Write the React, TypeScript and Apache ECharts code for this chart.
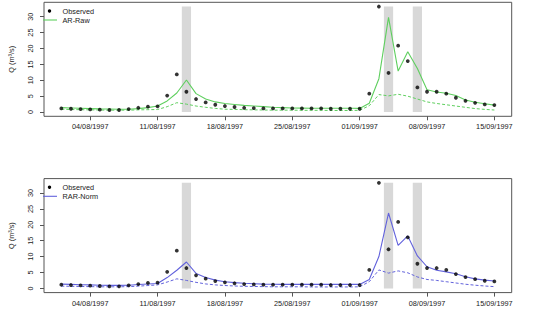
import React, { useEffect, useRef } from "react";
import * as echarts from "echarts";

const dates = [
  "01/08/1997","02/08/1997","03/08/1997","04/08/1997","05/08/1997","06/08/1997","07/08/1997","08/08/1997",
  "09/08/1997","10/08/1997","11/08/1997","12/08/1997","13/08/1997","14/08/1997","15/08/1997","16/08/1997",
  "17/08/1997","18/08/1997","19/08/1997","20/08/1997","21/08/1997","22/08/1997","23/08/1997","24/08/1997",
  "25/08/1997","26/08/1997","27/08/1997","28/08/1997","29/08/1997","30/08/1997","31/08/1997","01/09/1997",
  "02/09/1997","03/09/1997","04/09/1997","05/09/1997","06/09/1997","07/09/1997","08/09/1997","09/09/1997",
  "10/09/1997","11/09/1997","12/09/1997","13/09/1997","14/09/1997","15/09/1997",
];

const tickLabels = ["04/08/1997","11/08/1997","18/08/1997","25/08/1997","01/09/1997","08/09/1997","15/09/1997"];
const yTicks = [0, 5, 10, 15, 20, 25, 30];
const eventDates = ["14/08/1997", "04/09/1997", "07/09/1997"];

const observed = [
  1.15,1.05,0.95,0.85,0.75,0.65,0.65,0.95,1.35,1.7,1.8,5.2,11.85,6.4,4.1,3.05,
  2.3,1.9,1.6,1.35,1.25,1.15,1.15,1.15,1.15,1.15,1.15,1.15,1.05,1.05,1.05,1.05,
  5.8,33.2,12.3,20.9,16.05,7.75,6.4,6.4,5.8,4.5,3.55,2.9,2.4,2.2,
];

const arRaw = [
  1.4,1.3,1.2,1.1,1.0,0.95,0.9,0.9,1.1,1.4,1.9,3.5,6.0,10.1,5.8,4.1,
  3.2,2.7,2.4,2.1,1.9,1.7,1.5,1.4,1.3,1.25,1.2,1.2,1.2,1.2,1.2,1.15,
  2.8,10.5,29.8,12.9,19.0,13.7,7.0,6.3,5.9,5.2,3.8,3.1,2.6,2.2,
];

const arRawNoUpdate = [
  0.9,0.8,0.75,0.7,0.65,0.6,0.6,0.6,0.7,0.75,0.8,1.7,2.95,2.5,1.9,1.5,
  1.15,0.9,0.85,0.75,0.7,0.65,0.6,0.6,0.6,0.55,0.55,0.55,0.5,0.5,0.5,0.55,
  2.0,5.5,5.1,5.6,5.0,4.1,3.2,2.7,2.3,1.9,1.5,1.1,0.85,0.65,
];

const rarNorm = [
  1.35,1.25,1.15,1.1,1.0,0.95,0.95,1.0,1.2,1.4,1.55,3.4,5.7,8.3,4.7,3.45,
  2.6,2.1,1.8,1.6,1.45,1.35,1.3,1.25,1.25,1.25,1.25,1.25,1.25,1.25,1.25,1.25,
  2.8,10.0,23.7,13.5,16.5,10.2,6.8,5.7,5.2,4.6,3.65,3.0,2.6,2.3,
];

const rarNormNoUpdate = [
  0.7,0.65,0.6,0.55,0.5,0.5,0.5,0.55,0.7,0.9,1.1,2.0,3.0,2.5,1.9,1.4,
  1.1,0.9,0.75,0.65,0.6,0.55,0.5,0.5,0.5,0.5,0.45,0.45,0.45,0.45,0.45,0.5,
  2.1,5.8,4.8,5.5,4.9,3.6,2.8,2.5,2.1,1.7,1.3,1.0,0.75,0.55,
];

const FONT = "Liberation Sans, Arial, Helvetica, sans-serif";
const GREEN = "#5fcf5f";
const BLUE = "#6262dc";
const AXIS_COLOR = "#555";

export default function App() {
  const ref = useRef<HTMLDivElement>(null);

  useEffect(() => {
    if (!ref.current) return;
    const chart = echarts.init(ref.current, undefined, { renderer: "svg" });

    const n = dates.length;
    const xPad = (n - 1) * 0.04;
    const yMaxData = Math.max(...observed);
    const yPad = yMaxData * 0.04;
    const tickIdx = tickLabels.map((d) => dates.indexOf(d));
    const eventIdx = eventDates.map((d) => dates.indexOf(d));

    const panels = [
      { name: "AR-Raw", model: arRaw, base: arRawNoUpdate, color: GREEN, top: 2.3 },
      { name: "RAR-Norm", model: rarNorm, base: rarNormNoUpdate, color: BLUE, top: 178.6 },
    ];
    const gridLeft = 40.9;
    const gridWidth = 470.8;
    const gridHeight = 114;

    const grids: any[] = [];
    const xAxes: any[] = [];
    const yAxes: any[] = [];
    const series: any[] = [];
    const graphics: any[] = [];

    panels.forEach((p, i) => {
      grids.push({
        left: gridLeft,
        top: p.top,
        width: gridWidth,
        height: gridHeight,
        show: true,
        borderColor: AXIS_COLOR,
        borderWidth: 1,
        backgroundColor: "transparent",
        containLabel: false,
      });
      xAxes.push({
        type: "value",
        gridIndex: i,
        min: -xPad,
        max: n - 1 + xPad,
        axisLine: { show: false, onZero: false },
        splitLine: { show: false },
        axisTick: { show: true, length: 4, lineStyle: { color: AXIS_COLOR }, customValues: tickIdx },
        axisLabel: {
          customValues: tickIdx,
          formatter: (v: number) => dates[Math.round(v)] ?? "",
          fontFamily: FONT,
          fontSize: 7.3,
          color: "#222",
          margin: 7,
        },
      });
      yAxes.push({
        type: "value",
        gridIndex: i,
        min: -yPad,
        max: yMaxData + yPad,
        axisLine: { show: false, onZero: false },
        splitLine: { show: false },
        axisTick: { show: true, length: 4, lineStyle: { color: AXIS_COLOR }, customValues: yTicks },
        axisLabel: {
          customValues: yTicks,
          rotate: 90,
          fontFamily: FONT,
          fontSize: 7.3,
          color: "#222",
          margin: 10,
        },
        name: "Q (m³/s)",
        nameLocation: "middle",
        nameGap: 29,
        nameRotate: 90,
        nameTextStyle: { fontFamily: FONT, fontSize: 7.3, color: "#222" },
      });

      series.push({
        type: "line",
        name: p.name + " no update",
        xAxisIndex: i,
        yAxisIndex: i,
        data: p.base.map((v, k) => [k, v]),
        symbol: "none",
        lineStyle: { color: p.color, width: 1, type: [3, 2] },
        z: 2,
        markArea: {
          silent: true,
          itemStyle: { color: "#d8d8d8" },
          data: eventIdx.map((c) => [
            { xAxis: c - 0.48, yAxis: 0 },
            { xAxis: c + 0.48, yAxis: yMaxData },
          ]),
        },
      });
      series.push({
        type: "line",
        name: p.name,
        xAxisIndex: i,
        yAxisIndex: i,
        data: p.model.map((v, k) => [k, v]),
        symbol: "none",
        lineStyle: { color: p.color, width: 1.1 },
        z: 3,
      });
      series.push({
        type: "scatter",
        name: "Observed",
        xAxisIndex: i,
        yAxisIndex: i,
        data: observed.map((v, k) => [k, v]),
        symbol: "circle",
        symbolSize: 3.8,
        itemStyle: { color: "#000" },
        z: 4,
      });

      const ly = p.top + 8.7;
      graphics.push(
        { type: "circle", shape: { cx: 49.5, cy: ly, r: 1.7 }, style: { fill: "#000" }, z: 10 },
        {
          type: "text",
          x: 62.5,
          y: ly,
          style: { text: "Observed", fontFamily: FONT, fontSize: 7.3, fill: "#222", verticalAlign: "middle" },
          z: 10,
        },
        {
          type: "line",
          shape: { x1: 43, y1: ly + 9, x2: 57, y2: ly + 9 },
          style: { stroke: p.color, lineWidth: 1.1 },
          z: 10,
        },
        {
          type: "text",
          x: 62.5,
          y: ly + 9,
          style: { text: p.name, fontFamily: FONT, fontSize: 7.3, fill: "#222", verticalAlign: "middle" },
          z: 10,
        }
      );
    });

    chart.setOption({
      animation: false,
      backgroundColor: "#fff",
      grid: grids,
      xAxis: xAxes,
      yAxis: yAxes,
      series,
      graphic: graphics,
    });

    return () => chart.dispose();
  }, []);

  return (
    <div
      ref={ref}
      style={{ position: "absolute", left: 0, top: 0, width: 536, height: 313 }}
    />
  );
}
